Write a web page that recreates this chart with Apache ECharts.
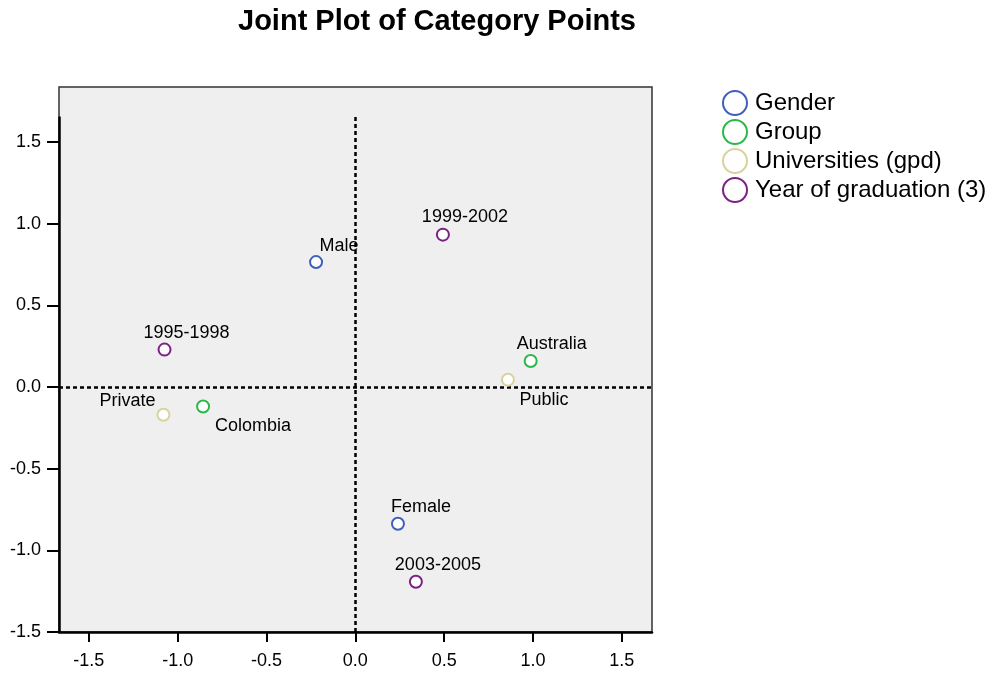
<!DOCTYPE html>
<html>
<head>
<meta charset="utf-8">
<script src="https://cdn.jsdelivr.net/npm/echarts@6/dist/echarts.min.js"></script>
<style>html,body{margin:0;padding:0;background:#fff;}#c{width:988px;height:673px;}</style>
</head>
<body>
<div id="c"></div>
<script>
// ---- data ----
const seriesNames = ['Gender', 'Group', 'Universities (gpd)', 'Year of graduation (3)'];
const genderPoints = [['Male', -0.221, 0.765], ['Female', 0.240, -0.837]];
const groupPoints = [['Australia', 0.987, 0.159], ['Colombia', -0.857, -0.119]];
const universityPoints = [['Public', 0.859, 0.045], ['Private', -1.080, -0.170]];
const yearPoints = [['1999-2002', 0.493, 0.933], ['1995-1998', -1.074, 0.229], ['2003-2005', 0.341, -1.192]];
const xTicks = [-1.5, -1.0, -0.5, 0.0, 0.5, 1.0, 1.5];
const yTicks = [-1.5, -1.0, -0.5, 0.0, 0.5, 1.0, 1.5];
const xRange = [-1.668, 1.670];
const yRange = [-1.5, 1.837];
const refLineTop = 1.657;

// ---- styles / layout ----
const FONT = 'Liberation Sans, Arial, Helvetica, sans-serif';
const colors = ['#3f5fba', '#2bb84a', '#d9d29c', '#7b2183'];
const labelOffsets = {
  'Male': [23, -16], 'Female': [23, -17],
  'Australia': [21, -17], 'Colombia': [50, 20],
  'Public': [36, 20], 'Private': [-36, -14],
  '1999-2002': [22, -18], '1995-1998': [22, -17], '2003-2005': [22, -17]
};
const allGroups = [genderPoints, groupPoints, universityPoints, yearPoints];

const series = allGroups.map((pts, i) => ({
  name: seriesNames[i],
  type: 'scatter',
  symbol: 'emptyCircle',
  symbolSize: 12,
  z: 5,
  itemStyle: { color: colors[i], borderColor: colors[i], borderWidth: 1.8, opacity: 1 },
  data: pts.map(p => ({
    name: p[0], value: [p[1], p[2]],
    label: { show: true, position: 'inside', offset: labelOffsets[p[0]], formatter: p[0],
      color: '#000', fontSize: 18, fontFamily: FONT }
  })),
  emphasis: { disabled: true }
}));

series.push({
  type: 'scatter', data: [], silent: true, z: 3,
  markLine: {
    silent: true, symbol: 'none', animation: false,
    label: { show: false },
    data: [
      [{ coord: [0, yRange[0]], lineStyle: { type: [4, 3], color: '#000', width: 2.5 } }, { coord: [0, refLineTop] }],
      [{ coord: [xRange[0], 0], lineStyle: { type: [4, 3], color: '#000', width: 2.5 } }, { coord: [xRange[1], 0] }],
      [{ coord: [xRange[0], yRange[0]], lineStyle: { type: 'solid', color: '#000', width: 2.5 } }, { coord: [xRange[0], refLineTop] }]
    ]
  }
});

const chart = echarts.init(document.getElementById('c'), null, { renderer: 'canvas' });
chart.setOption({
  animation: false,
  backgroundColor: '#ffffff',
  title: {
    text: 'Joint Plot of Category Points', left: 432, top: 2, textAlign: 'center',
    textStyle: { fontSize: 29, fontWeight: 'bold', color: '#000', fontFamily: FONT }
  },
  legend: {
    data: seriesNames, orient: 'vertical', left: 717, top: 85,
    itemWidth: 26, itemHeight: 24, itemGap: 3, icon: 'emptyCircle',
    itemStyle: { borderWidth: 2 },
    textStyle: { fontSize: 24, lineHeight: 24, color: '#000', fontFamily: FONT, padding: [0, 0, 0, 2] },
    selectedMode: false
  },
  grid: {
    left: 59, right: 336, top: 87, bottom: 41,
    show: true, backgroundColor: '#efefef', borderColor: '#333', borderWidth: 1.5
  },
  xAxis: {
    type: 'value', min: xRange[0], max: xRange[1],
    axisLine: { show: true, onZero: false, lineStyle: { color: '#000', width: 2.5 } },
    axisTick: { show: true, customValues: xTicks, length: 10, lineStyle: { color: '#000', width: 2 } },
    axisLabel: { customValues: xTicks, formatter: v => v.toFixed(1), fontSize: 18, color: '#000', margin: 20,
      fontFamily: FONT },
    splitLine: { show: false }
  },
  yAxis: {
    type: 'value', min: yRange[0], max: yRange[1],
    axisLine: { show: false, onZero: false },
    axisTick: { show: true, customValues: yTicks, length: 12, lineStyle: { color: '#000', width: 2 } },
    axisLabel: { customValues: yTicks, formatter: v => v.toFixed(1), fontSize: 18, color: '#000', margin: 18,
      fontFamily: FONT },
    splitLine: { show: false }
  },
  series: series
});
</script>
</body>
</html>
